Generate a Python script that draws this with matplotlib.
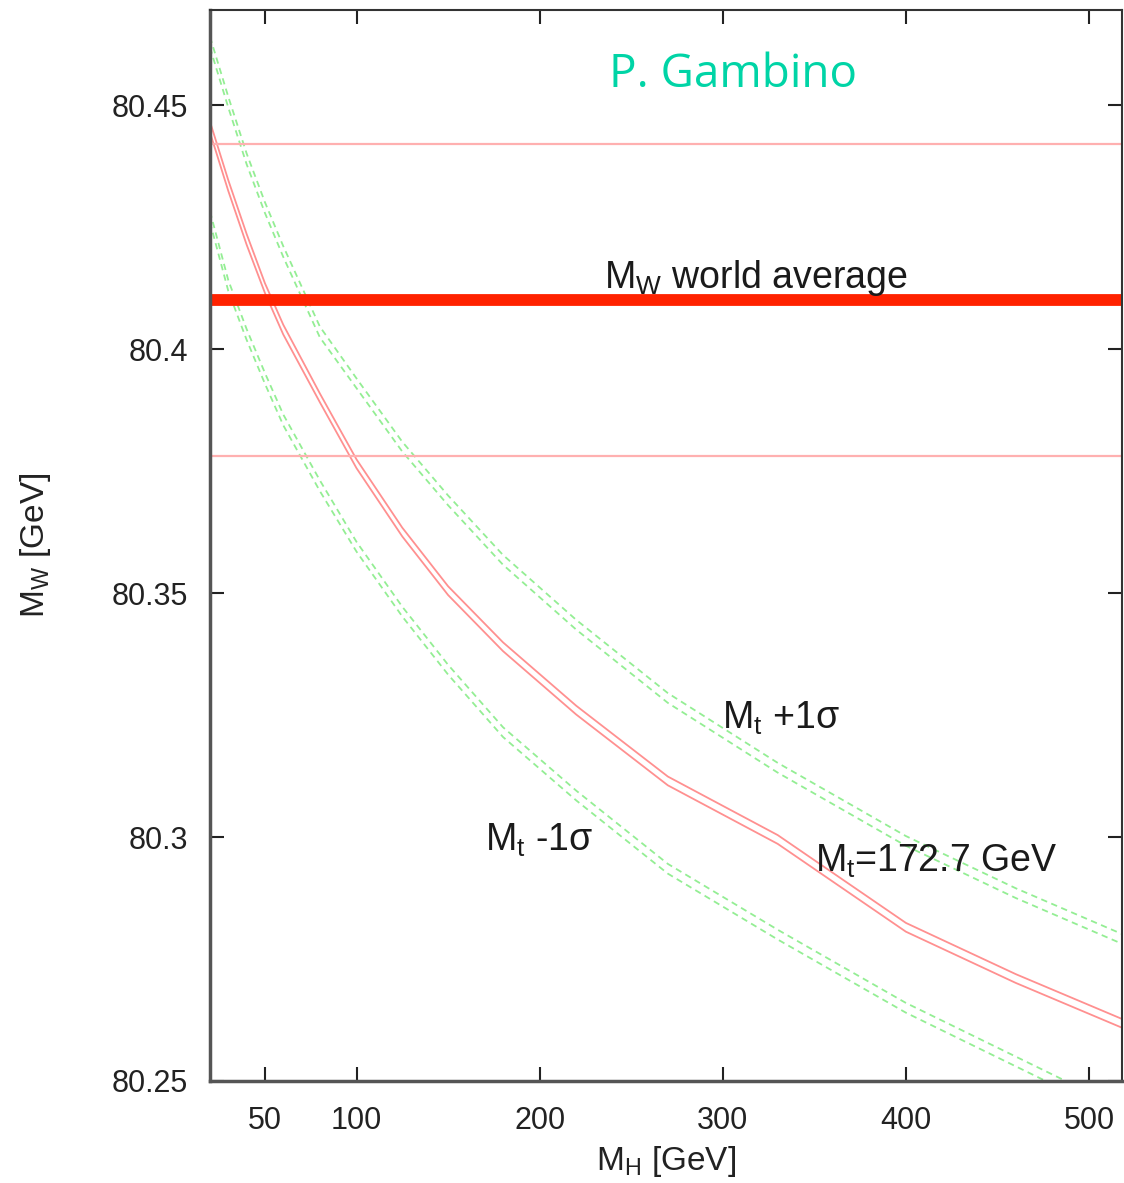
import matplotlib
matplotlib.use("Agg")
import matplotlib.pyplot as plt
import numpy as np

plt.rcParams['font.family'] = ['Liberation Sans', 'DejaVu Sans']
plt.rcParams['mathtext.fontset'] = 'custom'
plt.rcParams['mathtext.rm'] = 'Liberation Sans'
plt.rcParams['mathtext.it'] = 'Liberation Sans'

# Higgs mass grid [GeV]
mh = [20, 30, 40, 50, 60, 80, 100, 125, 150, 180, 220, 270, 330, 400, 460, 520]

# Mt = 172.7 GeV (pair of solid lines)
red_hi = [80.4466, 80.4346, 80.4236, 80.4135, 80.4050, 80.3909, 80.3774, 80.3634, 80.3514,
          80.3399, 80.3269, 80.3124, 80.3004, 80.2824, 80.2719, 80.2624]
red_lo = [80.4444, 80.4324, 80.4214, 80.4115, 80.4030, 80.3891, 80.3756, 80.3616, 80.3496,
          80.3381, 80.3251, 80.3106, 80.2986, 80.2806, 80.2701, 80.2606]

# Mt + 1 sigma (pair of dashed lines)
gup_hi = [80.4640, 80.4517, 80.4401, 80.4301, 80.4211, 80.4046, 80.3940, 80.3810, 80.3700,
          80.3578, 80.3445, 80.3295, 80.3152, 80.3002, 80.2895, 80.2798]
gup_lo = [80.4618, 80.4495, 80.4379, 80.4279, 80.4189, 80.4024, 80.3920, 80.3790, 80.3680,
          80.3558, 80.3425, 80.3275, 80.3132, 80.2982, 80.2875, 80.2778]

# Mt - 1 sigma (pair of dashed lines)
gdn_hi = [80.4282, 80.4141, 80.4041, 80.3951, 80.3866, 80.3731, 80.3605, 80.3472, 80.3353,
          80.3225, 80.3095, 80.2945, 80.2810, 80.2660, 80.2550, 80.2440]
gdn_lo = [80.4260, 80.4119, 80.4019, 80.3929, 80.3844, 80.3709, 80.3585, 80.3452, 80.3333,
          80.3205, 80.3075, 80.2925, 80.2790, 80.2640, 80.2530, 80.2420]

# MW world average and its 1 sigma band
mw_avg = 80.410
mw_band = [80.378, 80.442]

xticks = [50, 100, 200, 300, 400, 500]
yticks = [80.25, 80.30, 80.35, 80.40, 80.45]
ytick_labels = ['80.25', '80.3', '80.35', '80.4', '80.45']

W, H = 1124, 1183
fig = plt.figure(figsize=(W / 100, H / 100), dpi=100)
ax = fig.add_axes([210 / W, 1 - 1081 / H, (1122 - 210) / W, (1081 - 10) / H])

ax.set_xlim(20, 518)
ax.set_ylim(80.25, 80.4695)

red = '#ff9090'
green = '#94ee94'
ax.plot(mh, red_hi, color=red, lw=1.3)
ax.plot(mh, red_lo, color=red, lw=1.3)
for arr in (gup_hi, gup_lo, gdn_hi, gdn_lo):
    ax.plot(mh, arr, color=green, lw=1.3, linestyle=(0, (3.5, 2.5)))

ax.axhline(mw_avg, color='#ff2200', lw=8.5)
for v in mw_band:
    ax.axhline(v, color='#ffb0b0', lw=1.6)

ax.set_xticks(xticks)
ax.set_xticklabels([str(t) for t in xticks])
ax.set_yticks(yticks)
ax.set_yticklabels(ytick_labels)
ax.tick_params(direction='in', length=10, width=1.5, top=True, right=True,
               labelsize=22, colors='#222222')
ax.tick_params(axis='x', pad=18)
ax.tick_params(axis='y', pad=16)

for s in ('left', 'bottom'):
    ax.spines[s].set_linewidth(2.5)
    ax.spines[s].set_color('#555555')
for s in ('top', 'right'):
    ax.spines[s].set_linewidth(1.5)
    ax.spines[s].set_color('#333333')

ax.set_xlabel(r'$\mathregular{M_H}$ [GeV]', fontsize=24, color='#222222', labelpad=6)
ax.set_ylabel(r'$\mathregular{M_W}$ [GeV]', fontsize=24, color='#222222', labelpad=42)

tk = dict(fontsize=27, color='#1a1a1a', ha='left', va='baseline')
ax.text(235, 80.4125, r'$\mathregular{M_W}$ world average', **tk)
ax.text(299.5, 80.3223, r'$\mathregular{M_t}$ +1σ', **tk)
ax.text(170, 80.2973, r'$\mathregular{M_t}$ -1σ', **tk)
ax.text(350.3, 80.2928, r'$\mathregular{M_t}$=172.7 GeV', **tk)

fig.text(733 / W, 1 - 75 / H, 'P. Gambino', fontsize=33, color='#00d4a6',
         family=['Open Sans', 'DejaVu Sans'], ha='center', va='center')

fig.savefig('out.png', dpi=100)
